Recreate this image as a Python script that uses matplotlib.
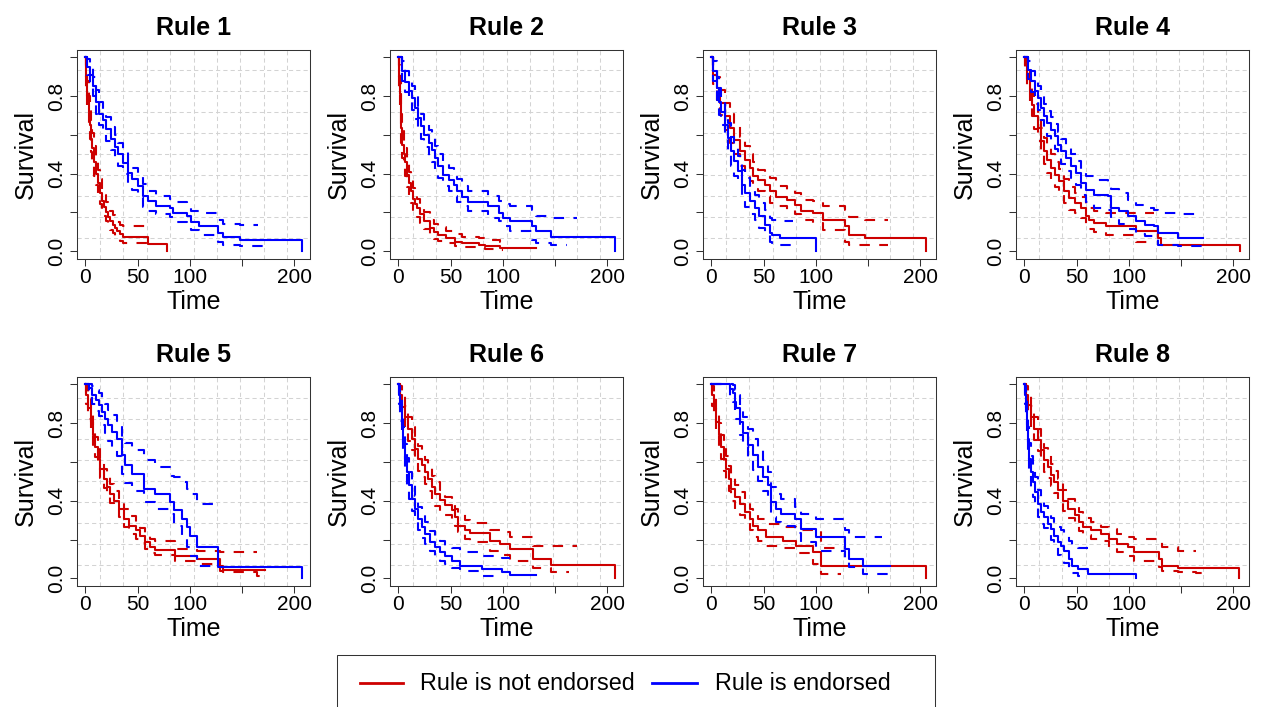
import numpy as np
import matplotlib.pyplot as plt
from matplotlib.lines import Line2D
from matplotlib.patches import Rectangle

plt.rcParams['font.family'] = ['Liberation Sans', 'DejaVu Sans']

nan = float("nan")
RED = "#CD0000"
BLUE = "#0000FF"

# Kaplan-Meier estimates (step, post) with lower / upper 95% bands.
# "no" = rule is not endorsed, "yes" = rule is endorsed.

# Rule 1
r1_no_t = [0, 1, 2, 3, 4, 5, 6, 8, 10, 12, 14, 16, 18, 20, 22, 24, 26, 28, 30, 33, 36, 60, 62, 78]
r1_no_s = [1.0, 0.90, 0.80, 0.72, 0.65, 0.58, 0.53, 0.46, 0.40, 0.35, 0.30, 0.26, 0.23, 0.20, 0.175, 0.155, 0.135, 0.12, 0.105, 0.09, 0.075, 0.035, 0.035, 0.0]
r1_no_lo = [1.0, 0.84, 0.73, 0.65, 0.58, 0.51, 0.46, 0.39, 0.34, 0.29, 0.245, 0.21, 0.18, 0.155, 0.13, 0.11, 0.095, 0.08, 0.07, 0.055, 0.04, 0.025, nan, nan]
r1_no_hi = [1.0, 0.96, 0.88, 0.80, 0.73, 0.66, 0.61, 0.54, 0.47, 0.42, 0.37, 0.32, 0.29, 0.255, 0.23, 0.205, 0.185, 0.165, 0.15, 0.135, 0.13, 0.13, nan, nan]
r1_yes_t = [0, 2, 4, 7, 10, 13, 17, 20, 25, 28, 31, 36, 41, 45, 50, 55, 60, 68, 81, 84, 97, 101, 109, 127, 132, 148, 165, 172, 207]
r1_yes_s = [1.0, 0.95, 0.91, 0.85, 0.77, 0.71, 0.675, 0.63, 0.58, 0.535, 0.50, 0.457, 0.405, 0.37, 0.336, 0.283, 0.257, 0.235, 0.223, 0.197, 0.18, 0.153, 0.13, 0.092, 0.071, 0.057, 0.057, 0.057, 0.0]
r1_yes_lo = [1.0, 0.91, 0.86, 0.80, 0.71, 0.65, 0.615, 0.57, 0.52, 0.475, 0.44, 0.40, 0.35, 0.315, 0.28, 0.23, 0.205, 0.19, 0.175, 0.15, 0.137, 0.11, 0.086, 0.05, 0.034, 0.026, 0.026, nan, nan]
r1_yes_hi = [1.0, 0.99, 0.96, 0.90, 0.83, 0.77, 0.735, 0.69, 0.64, 0.60, 0.56, 0.515, 0.46, 0.43, 0.395, 0.345, 0.31, 0.285, 0.27, 0.255, 0.24, 0.21, 0.197, 0.163, 0.14, 0.137, nan, nan, nan]

# Rule 2
r2_no_t = [0, 0.5, 1, 1.6, 2.6, 3.8, 5, 6, 8, 10, 12, 14, 16, 18, 21, 25, 30, 34, 38, 46, 54, 61, 77, 83, 97, 100, 132]
r2_no_s = [1.0, 0.96, 0.90, 0.81, 0.635, 0.55, 0.50, 0.46, 0.395, 0.35, 0.31, 0.27, 0.245, 0.223, 0.19, 0.155, 0.12, 0.10, 0.086, 0.069, 0.05, 0.04, 0.034, 0.026, 0.017, 0.015, 0.015]
r2_no_lo = [1.0, 0.92, 0.84, 0.74, 0.56, 0.48, 0.43, 0.39, 0.33, 0.29, 0.25, 0.215, 0.19, 0.175, 0.145, 0.115, 0.085, 0.065, 0.055, 0.04, 0.026, 0.02, 0.015, 0.01, 0.005, nan, nan]
r2_no_hi = [1.0, 1.0, 0.96, 0.88, 0.71, 0.62, 0.57, 0.53, 0.46, 0.41, 0.37, 0.325, 0.30, 0.27, 0.235, 0.20, 0.16, 0.14, 0.125, 0.105, 0.09, 0.075, 0.069, 0.06, 0.05, nan, nan]
r2_yes_t = [0, 3, 6, 10, 13, 16, 19, 22, 25, 29, 32, 35, 38, 43, 48, 53, 56, 61, 67, 86, 96, 100, 107, 128, 132, 146, 161, 171, 207]
r2_yes_s = [1.0, 0.93, 0.875, 0.824, 0.79, 0.74, 0.687, 0.644, 0.60, 0.558, 0.524, 0.48, 0.438, 0.395, 0.369, 0.343, 0.309, 0.278, 0.254, 0.232, 0.197, 0.172, 0.155, 0.129, 0.103, 0.072, 0.072, 0.072, 0.0]
r2_yes_lo = [1.0, 0.88, 0.82, 0.77, 0.73, 0.68, 0.625, 0.58, 0.535, 0.49, 0.46, 0.415, 0.375, 0.335, 0.31, 0.285, 0.255, 0.232, 0.206, 0.17, 0.155, 0.13, 0.103, 0.06, 0.045, 0.034, nan, nan, nan]
r2_yes_hi = [1.0, 0.98, 0.93, 0.88, 0.85, 0.80, 0.75, 0.71, 0.665, 0.625, 0.59, 0.545, 0.50, 0.455, 0.43, 0.40, 0.37, 0.335, 0.31, 0.283, 0.258, 0.245, 0.232, 0.215, 0.18, 0.172, 0.172, nan, nan]

# Rule 3
r3_no_t = [0, 1.6, 5, 8, 13, 17.5, 22, 27, 32, 37, 40, 45, 51, 56, 62, 72, 80, 86, 97, 107, 128, 132, 147, 169, 205]
r3_no_s = [1.0, 0.91, 0.84, 0.764, 0.695, 0.635, 0.575, 0.515, 0.472, 0.429, 0.386, 0.369, 0.343, 0.309, 0.278, 0.266, 0.24, 0.21, 0.197, 0.163, 0.129, 0.086, 0.069, 0.069, 0.0]
r3_no_lo = [1.0, 0.86, 0.78, 0.70, 0.625, 0.56, 0.50, 0.44, 0.40, 0.36, 0.32, 0.31, 0.285, 0.25, 0.232, 0.215, 0.19, 0.16, 0.146, 0.112, 0.05, 0.034, 0.034, nan, nan]
r3_no_hi = [1.0, 0.96, 0.90, 0.83, 0.765, 0.71, 0.65, 0.59, 0.545, 0.50, 0.46, 0.42, 0.40, 0.378, 0.335, 0.318, 0.30, 0.266, 0.258, 0.232, 0.215, 0.175, 0.163, nan, nan]
r3_yes_t = [0, 1.6, 5, 7, 9.6, 13, 16, 19, 22, 25.5, 29, 32, 37, 41.5, 46, 51, 56, 58, 66, 78, 100.5]
r3_yes_s = [1.0, 0.93, 0.84, 0.77, 0.72, 0.65, 0.584, 0.515, 0.463, 0.412, 0.343, 0.30, 0.258, 0.223, 0.18, 0.137, 0.094, 0.086, 0.069, 0.069, 0.0]
r3_yes_lo = [1.0, 0.88, 0.78, 0.70, 0.65, 0.58, 0.51, 0.44, 0.39, 0.34, 0.27, 0.23, 0.19, 0.16, 0.12, 0.09, 0.05, 0.045, 0.034, nan, nan]
r3_yes_hi = [1.0, 0.98, 0.90, 0.84, 0.79, 0.72, 0.66, 0.59, 0.54, 0.49, 0.42, 0.38, 0.33, 0.29, 0.25, 0.215, 0.17, 0.163, 0.155, nan, nan]

# Rule 4
r4_no_t = [0, 0.6, 2.6, 5, 7, 9.6, 13, 16, 19, 22, 25.5, 29, 33.5, 38, 43, 48, 54, 59, 62, 67, 78, 107, 118, 124, 128, 131, 206]
r4_no_s = [1.0, 0.96, 0.89, 0.82, 0.755, 0.695, 0.635, 0.567, 0.515, 0.472, 0.43, 0.395, 0.36, 0.309, 0.275, 0.249, 0.223, 0.18, 0.163, 0.146, 0.129, 0.103, 0.103, 0.103, 0.069, 0.034, 0.0]
r4_no_lo = [1.0, 0.92, 0.84, 0.76, 0.695, 0.63, 0.57, 0.50, 0.45, 0.405, 0.365, 0.33, 0.295, 0.25, 0.215, 0.195, 0.17, 0.13, 0.115, 0.10, 0.086, 0.05, nan, nan, nan, nan, nan]
r4_no_hi = [1.0, 1.0, 0.94, 0.88, 0.815, 0.76, 0.70, 0.635, 0.585, 0.54, 0.50, 0.46, 0.425, 0.37, 0.33, 0.30, 0.28, 0.24, 0.225, 0.206, 0.197, 0.197, 0.197, nan, nan, nan, nan]
r4_yes_t = [0, 3, 6, 10, 13, 16, 19, 22, 25.5, 29, 32, 35, 40, 45, 49, 54, 59, 67, 80, 83, 91, 99, 107, 115, 124, 128, 147, 171]
r4_yes_s = [1.0, 0.936, 0.876, 0.824, 0.79, 0.738, 0.695, 0.661, 0.627, 0.592, 0.55, 0.515, 0.48, 0.438, 0.403, 0.352, 0.318, 0.292, 0.283, 0.223, 0.206, 0.18, 0.155, 0.137, 0.129, 0.094, 0.069, 0.069]
r4_yes_lo = [1.0, 0.89, 0.82, 0.765, 0.73, 0.675, 0.63, 0.595, 0.56, 0.525, 0.485, 0.45, 0.415, 0.375, 0.34, 0.29, 0.255, 0.225, 0.215, 0.16, 0.14, 0.115, 0.09, 0.077, 0.065, 0.034, 0.026, nan]
r4_yes_hi = [1.0, 0.98, 0.93, 0.88, 0.85, 0.80, 0.76, 0.725, 0.69, 0.655, 0.615, 0.58, 0.545, 0.50, 0.465, 0.415, 0.39, 0.369, 0.343, 0.32, 0.30, 0.266, 0.24, 0.223, 0.215, 0.197, 0.19, nan]

# Rule 5
r5_no_t = [0, 0.6, 2.6, 5, 7, 9.6, 12, 14.4, 17.5, 20.7, 24, 27, 32, 36.7, 41.5, 48, 52.6, 57.4, 62, 67, 86, 107, 129, 132, 164, 172]
r5_no_s = [1.0, 0.945, 0.876, 0.807, 0.738, 0.678, 0.617, 0.566, 0.514, 0.47, 0.436, 0.40, 0.359, 0.307, 0.272, 0.247, 0.22, 0.186, 0.16, 0.148, 0.117, 0.10, 0.066, 0.045, 0.045, 0.045]
r5_no_lo = [1.0, 0.90, 0.82, 0.75, 0.685, 0.625, 0.565, 0.515, 0.465, 0.42, 0.39, 0.355, 0.315, 0.265, 0.23, 0.205, 0.18, 0.15, 0.13, 0.12, 0.09, 0.075, 0.04, 0.031, 0.014, nan]
r5_no_hi = [1.0, 0.99, 0.93, 0.86, 0.79, 0.73, 0.67, 0.62, 0.565, 0.52, 0.485, 0.45, 0.405, 0.355, 0.32, 0.29, 0.26, 0.23, 0.205, 0.195, 0.152, 0.143, 0.138, 0.134, nan, nan]
r5_yes_t = [0, 3, 6, 10, 13, 16, 19, 22, 25.5, 30, 35, 38, 45, 56, 67, 81, 84.5, 92.5, 97, 100.5, 107, 127, 207]
r5_yes_s = [1.0, 0.98, 0.945, 0.919, 0.893, 0.859, 0.824, 0.79, 0.755, 0.72, 0.634, 0.583, 0.54, 0.462, 0.436, 0.393, 0.35, 0.307, 0.264, 0.22, 0.16, 0.057, 0.0]
r5_yes_lo = [1.0, 0.95, 0.90, 0.865, 0.835, 0.79, 0.75, 0.71, 0.67, 0.63, 0.54, 0.49, 0.45, 0.393, 0.359, 0.333, 0.272, 0.21, 0.16, 0.117, 0.066, nan, nan]
r5_yes_hi = [1.0, 1.0, 0.99, 0.97, 0.955, 0.93, 0.90, 0.87, 0.84, 0.81, 0.73, 0.70, 0.66, 0.61, 0.574, 0.53, 0.52, 0.497, 0.46, 0.436, 0.384, nan, nan]

# Rule 6
r6_no_t = [0, 1.6, 3.2, 6.4, 9.6, 12.8, 16, 19, 22.3, 25.5, 28.7, 32, 35, 40, 44.7, 51, 54, 57.4, 64, 68.6, 87.7, 97, 107, 129, 146, 163, 171, 207]
r6_no_s = [1.0, 0.945, 0.884, 0.833, 0.772, 0.72, 0.669, 0.617, 0.583, 0.548, 0.514, 0.471, 0.436, 0.402, 0.376, 0.35, 0.316, 0.272, 0.247, 0.234, 0.195, 0.178, 0.152, 0.10, 0.069, 0.069, 0.069, 0.0]
r6_no_lo = [1.0, 0.90, 0.83, 0.78, 0.71, 0.66, 0.61, 0.555, 0.52, 0.485, 0.45, 0.41, 0.375, 0.345, 0.324, 0.30, 0.27, 0.238, 0.205, 0.186, 0.14, 0.12, 0.091, 0.052, 0.031, nan, nan, nan]
r6_no_hi = [1.0, 0.99, 0.94, 0.89, 0.83, 0.78, 0.73, 0.68, 0.645, 0.61, 0.575, 0.53, 0.495, 0.455, 0.419, 0.39, 0.36, 0.333, 0.30, 0.285, 0.25, 0.238, 0.212, 0.169, 0.169, 0.169, nan, nan]
r6_yes_t = [0, 0.6, 1.6, 3.2, 4.8, 6.4, 8, 10.2, 12.8, 16, 19, 22.3, 25.5, 30, 35, 40, 44.7, 51, 59, 80, 99, 107, 132]
r6_yes_s = [1.0, 0.945, 0.876, 0.79, 0.703, 0.617, 0.548, 0.479, 0.41, 0.359, 0.307, 0.264, 0.229, 0.186, 0.16, 0.134, 0.117, 0.091, 0.066, 0.048, 0.031, 0.017, 0.017]
r6_yes_lo = [1.0, 0.90, 0.81, 0.72, 0.63, 0.55, 0.48, 0.41, 0.345, 0.295, 0.25, 0.21, 0.175, 0.14, 0.115, 0.09, 0.075, 0.055, 0.04, 0.014, nan, nan, nan]
r6_yes_hi = [1.0, 0.99, 0.94, 0.86, 0.78, 0.69, 0.62, 0.55, 0.48, 0.425, 0.37, 0.325, 0.29, 0.245, 0.215, 0.19, 0.169, 0.155, 0.135, 0.115, 0.103, nan, nan]

# Rule 7
r7_no_t = [0, 0.6, 2.6, 4.8, 7, 9.6, 12, 14.4, 16.6, 19, 22.3, 27, 32, 36.7, 40, 44.7, 52.6, 68.6, 81, 97, 105, 124, 205.4]
r7_no_s = [1.0, 0.945, 0.876, 0.807, 0.738, 0.678, 0.617, 0.566, 0.514, 0.462, 0.419, 0.384, 0.341, 0.307, 0.272, 0.247, 0.212, 0.195, 0.169, 0.134, 0.066, 0.066, 0.0]
r7_no_lo = [1.0, 0.89, 0.82, 0.75, 0.68, 0.615, 0.555, 0.50, 0.45, 0.40, 0.36, 0.325, 0.285, 0.25, 0.215, 0.195, 0.169, 0.155, 0.13, 0.074, 0.022, nan, nan]
r7_no_hi = [1.0, 0.99, 0.93, 0.86, 0.80, 0.74, 0.68, 0.63, 0.58, 0.525, 0.48, 0.445, 0.40, 0.36, 0.33, 0.305, 0.281, 0.264, 0.247, 0.247, 0.155, nan, nan]
r7_yes_t = [0, 16, 18, 20.7, 22.3, 24, 27, 30, 35, 40, 44.7, 49.4, 54, 57.4, 62, 67, 80, 86, 100.5, 127.6, 132, 145, 163, 171]
r7_yes_s = [1.0, 1.0, 0.975, 0.953, 0.91, 0.876, 0.807, 0.747, 0.686, 0.634, 0.574, 0.522, 0.479, 0.393, 0.359, 0.333, 0.307, 0.255, 0.212, 0.152, 0.10, 0.066, 0.066, 0.066]
r7_yes_lo = [1.0, 1.0, 0.94, 0.91, 0.86, 0.82, 0.74, 0.68, 0.61, 0.56, 0.50, 0.45, 0.40, 0.316, 0.29, 0.272, 0.235, 0.186, 0.143, 0.085, 0.057, 0.022, 0.022, nan]
r7_yes_hi = [1.0, 1.0, 1.0, 0.995, 0.97, 0.945, 0.89, 0.83, 0.77, 0.72, 0.665, 0.61, 0.548, 0.47, 0.436, 0.41, 0.367, 0.333, 0.307, 0.247, 0.212, 0.212, nan, nan]

# Rule 8
r8_no_t = [0, 1.6, 3.2, 6.4, 9.6, 12.8, 16, 19, 22.3, 25.5, 28.7, 32, 36.7, 41.5, 48, 52.6, 56, 64, 73, 81, 89, 99, 105, 129, 132, 147, 164, 172, 205.4]
r8_no_s = [1.0, 0.945, 0.893, 0.833, 0.772, 0.712, 0.66, 0.609, 0.574, 0.531, 0.497, 0.453, 0.40, 0.359, 0.324, 0.29, 0.264, 0.247, 0.229, 0.203, 0.178, 0.16, 0.134, 0.10, 0.066, 0.052, 0.052, 0.052, 0.0]
r8_no_lo = [1.0, 0.90, 0.845, 0.78, 0.715, 0.655, 0.60, 0.55, 0.515, 0.475, 0.44, 0.395, 0.345, 0.31, 0.28, 0.245, 0.225, 0.205, 0.19, 0.16, 0.135, 0.115, 0.091, 0.057, 0.04, 0.031, 0.025, nan, nan]
r8_no_hi = [1.0, 0.99, 0.94, 0.89, 0.83, 0.77, 0.72, 0.67, 0.635, 0.59, 0.555, 0.51, 0.455, 0.41, 0.375, 0.34, 0.31, 0.29, 0.264, 0.255, 0.229, 0.215, 0.203, 0.186, 0.16, 0.143, nan, nan, nan]
r8_yes_t = [0, 0.6, 1.3, 2.2, 3.2, 4.8, 6.4, 8, 10.2, 12.8, 16, 19, 22.3, 25.5, 28.7, 32, 35, 38, 43, 46, 51, 60.6, 107]
r8_yes_s = [1.0, 0.945, 0.876, 0.79, 0.703, 0.617, 0.548, 0.497, 0.445, 0.384, 0.341, 0.316, 0.281, 0.255, 0.22, 0.186, 0.169, 0.143, 0.10, 0.066, 0.048, 0.022, 0.0]
r8_yes_lo = [1.0, 0.90, 0.81, 0.72, 0.63, 0.54, 0.47, 0.42, 0.37, 0.315, 0.28, 0.26, 0.225, 0.20, 0.16, 0.12, 0.10, 0.08, 0.05, 0.025, 0.012, nan, nan]
r8_yes_hi = [1.0, 0.99, 0.94, 0.86, 0.78, 0.70, 0.63, 0.575, 0.52, 0.455, 0.40, 0.375, 0.34, 0.31, 0.29, 0.265, 0.25, 0.225, 0.195, 0.169, 0.155, nan, nan]

titles = ["Rule 1", "Rule 2", "Rule 3", "Rule 4", "Rule 5", "Rule 6", "Rule 7", "Rule 8"]
groups = [
    ((r1_no_t, r1_no_s, r1_no_lo, r1_no_hi), (r1_yes_t, r1_yes_s, r1_yes_lo, r1_yes_hi)),
    ((r2_no_t, r2_no_s, r2_no_lo, r2_no_hi), (r2_yes_t, r2_yes_s, r2_yes_lo, r2_yes_hi)),
    ((r3_no_t, r3_no_s, r3_no_lo, r3_no_hi), (r3_yes_t, r3_yes_s, r3_yes_lo, r3_yes_hi)),
    ((r4_no_t, r4_no_s, r4_no_lo, r4_no_hi), (r4_yes_t, r4_yes_s, r4_yes_lo, r4_yes_hi)),
    ((r5_no_t, r5_no_s, r5_no_lo, r5_no_hi), (r5_yes_t, r5_yes_s, r5_yes_lo, r5_yes_hi)),
    ((r6_no_t, r6_no_s, r6_no_lo, r6_no_hi), (r6_yes_t, r6_yes_s, r6_yes_lo, r6_yes_hi)),
    ((r7_no_t, r7_no_s, r7_no_lo, r7_no_hi), (r7_yes_t, r7_yes_s, r7_yes_lo, r7_yes_hi)),
    ((r8_no_t, r8_no_s, r8_no_lo, r8_no_hi), (r8_yes_t, r8_yes_s, r8_yes_lo, r8_yes_hi)),
]
legend_labels = ["Rule is not endorsed", "Rule is endorsed"]
x_ticks = [0, 50, 100, 150, 200]
x_ticklabels = ["0", "50", "100", "", "200"]
y_ticks = [0.0, 0.2, 0.4, 0.6, 0.8, 1.0]
y_ticklabels = ["0.0", "", "0.4", "", "0.8", ""]

W, H = 1261, 707
fig = plt.figure(figsize=(W / 100, H / 100), dpi=100)

FRAME = "#333333"
xlim = (-8.3, 215.3)
ylim = (-0.04, 1.04)
lw = 1.5
dash = (0, (5, 4.5))

# panel boxes in pixels: left edges per column, top edges per row
col_x = [76.7, 389.7, 702.7, 1015.7]
row_y = [49.5, 376.6]
box_w, box_h = 233.6, 209.5

for i, (title, (grp_no, grp_yes)) in enumerate(zip(titles, groups)):
    r, c = divmod(i, 4)
    ax = fig.add_axes([col_x[c] / W, 1 - (row_y[r] + box_h) / H, box_w / W, box_h / H])
    ax.set_xlim(*xlim)
    ax.set_ylim(*ylim)

    # light dashed grid splitting the plot region in ten
    for gx in np.linspace(xlim[0], xlim[1], 11)[1:-1]:
        ax.axvline(gx, color="#D3D3D3", lw=0.75, ls=(0, (4, 3)), zorder=0)
    for gy in np.linspace(ylim[0], ylim[1], 11)[1:-1]:
        ax.axhline(gy, color="#D3D3D3", lw=0.75, ls=(0, (4, 3)), zorder=0)

    for (t, s, lo, hi), col in ((grp_no, RED), (grp_yes, BLUE)):
        ax.plot(t, s, drawstyle="steps-post", color=col, lw=lw, zorder=3)
        ax.plot(t, lo, drawstyle="steps-post", color=col, lw=lw, ls=dash, zorder=3)
        ax.plot(t, hi, drawstyle="steps-post", color=col, lw=lw, ls=dash, zorder=3)

    ax.set_xticks(x_ticks)
    ax.set_xticklabels(x_ticklabels)
    ax.set_yticks(y_ticks)
    ax.set_yticklabels(y_ticklabels, rotation=90, va="center")
    ax.tick_params(direction="out", length=5, width=0.75, color=FRAME, labelsize=15)
    ax.tick_params(axis="x", pad=1.5)
    ax.tick_params(axis="y", pad=2.5)
    for sp in ax.spines.values():
        sp.set_color(FRAME)
        sp.set_linewidth(0.75)

    ax.set_title(title, fontsize=18, fontweight="bold", pad=10.4)
    ax.set_xlabel("Time", fontsize=18, labelpad=2)
    ax.set_ylabel("Survival", fontsize=18, labelpad=7)

# legend box along the bottom edge
fig.add_artist(Rectangle((337 / W, 1 - 711 / H), 598 / W, 56 / H, transform=fig.transFigure,
                         facecolor="none", edgecolor=FRAME, lw=0.75, clip_on=False))
y_leg = 1 - 683 / H
for (x0, x1, tx), col, lab in zip([(360, 403, 420), (652, 697, 715)], [RED, BLUE], legend_labels):
    fig.add_artist(Line2D([x0 / W, x1 / W], [y_leg, y_leg], transform=fig.transFigure, color=col, lw=2))
    fig.text(tx / W, y_leg, lab, fontsize=16.8, va="center", ha="left")

fig.savefig("out.png", dpi=100)
